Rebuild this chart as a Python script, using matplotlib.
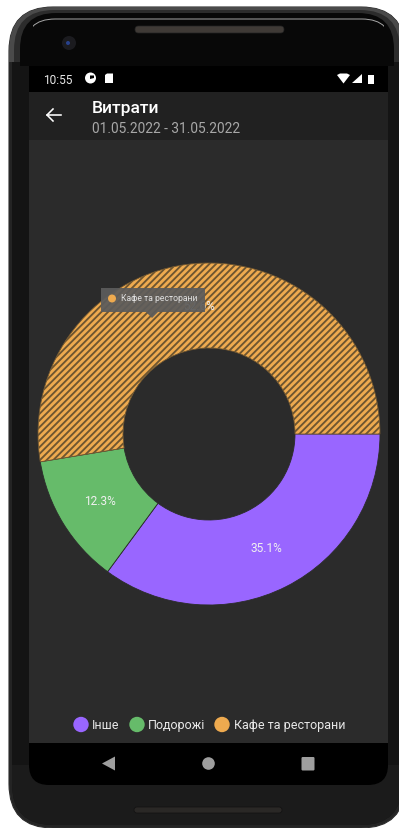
import matplotlib
matplotlib.use("Agg")
import matplotlib.pyplot as plt
from matplotlib.patches import FancyBboxPatch, Rectangle, Circle, Polygon
from matplotlib.lines import Line2D

categories = ["Інше", "Подорожі", "Кафе та ресторани"]
shares = [35.1, 12.3, 52.6]
colors = ["#9966ff", "#66bb6a", "#eeaa4f"]
title = "Витрати"
subtitle = "01.05.2022 - 31.05.2022"
clock = "10:55"

W, H = 399, 829
plt.rcParams["font.family"] = ["Roboto", "DejaVu Sans"]
plt.rcParams["hatch.linewidth"] = 1.35

fig = plt.figure(figsize=(W / 100, H / 100), dpi=100, facecolor="white")
ax = fig.add_axes([0, 0, 1, 1])


def rounded(x0, y0, x1, y1, r, **kw):
    p = FancyBboxPatch((x0 + r, y0 + r), x1 - x0 - 2 * r, y1 - y0 - 2 * r,
                       boxstyle=f"round,pad={r},rounding_size={r}", **kw)
    ax.add_patch(p)
    return p


def keep_between(patch, y0, y1, x0=0, x1=W):
    patch.set_clip_path(Rectangle((x0, y0), x1 - x0, y1 - y0, transform=ax.transData))


ax.set_xlim(0, W)
ax.set_ylim(H - 1, -1)

# phone body: grey rim on top, dark sides and a lighter chin
rounded(9, 7, 405, 828, 44, fc="#242424", ec="#2c2c2c", lw=0.8, zorder=1)
body = rounded(12, 9, 402, 825, 41, fc="#141414", ec="none", zorder=1.1)
chin = Rectangle((0, 765), W, 65, fc="#1b1b1b", ec="none", zorder=1.2)
ax.add_patch(chin)
chin.set_clip_path(body)
rim = rounded(9, 7, 405, 200, 44, fc="#4a4a4a", ec="none", zorder=1.25)
keep_between(rim, 0, 62)
mid_rim = rounded(14, 10, 400, 200, 40, fc="#2c2c2c", ec="none", zorder=1.26)
keep_between(mid_rim, 0, 62)
head = rounded(20, 13, 394, 200, 36, fc="#080808", ec="none", zorder=1.27)
keep_between(head, 0, 66)
glare = rounded(25, 19, 392, 200, 30, fc="#080808", ec="#a8a8a8", lw=0.7, zorder=1.3)
keep_between(glare, 0, 34, 33, 384)

# earpiece, lower speaker and camera
rounded(135, 26, 284, 33, 3.4, fc="#3f3a36", ec="#222222", lw=0.5, zorder=2)
rounded(134, 807, 282, 813, 2.9, fc="#2a2826", ec="#111111", lw=0.5, zorder=2)
ax.add_patch(Circle((69, 43), 7, fc="#1b1b1f", ec="none", zorder=2))
ax.add_patch(Circle((68, 43), 2, fc="#27418c", ec="none", zorder=2.1))

# screen regions
ax.add_patch(Rectangle((29, 66), 359, 26, fc="black", ec="none", zorder=2))
rounded(29, 720, 388, 785, 20, fc="black", ec="none", zorder=2)
ax.add_patch(Rectangle((29, 92), 359, 48, fc="#212121", ec="none", zorder=3))
ax.add_patch(Rectangle((29, 140), 359, 603, fc="#2b2b2b", ec="none", zorder=3))

# status bar
ax.text(43, 79, clock, color="#e8e8e8", fontsize=8.6, va="center", zorder=4)
ax.add_patch(Circle((90.5, 78), 5.5, fc="white", ec="none", zorder=4))
ax.add_patch(Polygon([[90, 75.5], [94, 75.5], [94, 78], [90, 79]], fc="black", ec="none", zorder=4.1))
ax.add_patch(Polygon([[105, 75], [107, 73.5], [113, 73.5], [113, 83], [105, 83]], fc="white", ec="none", zorder=4))
ax.add_patch(Polygon([[337, 75], [340, 73.5], [347, 73.5], [350, 75], [343.5, 83.5]], fc="white", ec="none", zorder=4))
ax.add_patch(Polygon([[352, 83], [362, 83], [362, 73.5]], fc="white", ec="none", zorder=4))
ax.add_patch(Rectangle((368, 74.5), 5.5, 9, fc="white", ec="none", zorder=4))

# app bar
ax.add_line(Line2D([47, 61], [115, 115], color="white", lw=1.15, zorder=4))
ax.add_line(Line2D([53, 47, 53], [109, 115, 121], color="white", lw=1.15, zorder=4))
ax.text(92, 108, title, color="white", fontsize=12.6, fontweight="medium", va="center", zorder=4)
ax.text(92, 128, subtitle, color="#a8a8a8", fontsize=9.9, va="center", zorder=4)

# doughnut, clockwise from three o'clock on the inverted y axis
wedges, _, pct_labels = ax.pie(
    shares, colors=colors, startangle=0, counterclock=True,
    radius=171, center=(209, 434), frame=True,
    wedgeprops=dict(width=85, edgecolor="#2b2b2b", linewidth=0.6, zorder=5),
    autopct="%.1f%%", pctdistance=0.75,
    textprops=dict(color="#f0f0f0", fontsize=8.6),
)
ax.set_xlim(0, W)
ax.set_ylim(H - 1, -1)
ax.set_aspect("auto")
ax.axis("off")
for t in pct_labels:
    t.set_zorder(6)
    t.set_y(t.get_position()[1] - 1)
wedges[2].set_hatch("/////")
wedges[2].set_edgecolor("#6e5530")

# tooltip over the highlighted slice
ax.add_patch(Polygon([[101, 288], [205, 288], [205, 312], [158, 312], [152, 318], [146, 312], [101, 312]],
                     fc="#5c5c5c", ec="none", alpha=0.93, zorder=7))
ax.add_patch(Circle((112, 298.5), 4, fc=colors[2], ec="none", zorder=8))
ax.text(121, 298, categories[2], color="#e0e0e0", fontsize=6.2, va="center", zorder=8)

# legend row
legend_dots = [81, 137, 222]
legend_text = [92, 148, 234]
for dot_x, text_x, name, col in zip(legend_dots, legend_text, categories, colors):
    ax.add_patch(Circle((dot_x, 724.5), 7.7, fc=col, ec="none", zorder=5))
    ax.text(text_x, 724.5, name, color="#e8e8e8", fontsize=9.0, va="center", zorder=5)

# navigation bar
ax.add_patch(Polygon([[102, 763.5], [115, 756.5], [115, 770.5]], fc="#9e9e9e", ec="none", zorder=4))
ax.add_patch(Circle((208.5, 763.5), 6.3, fc="#9e9e9e", ec="none", zorder=4))
rounded(301.5, 757, 314.5, 770.5, 1.2, fc="#9e9e9e", ec="none", zorder=4)

fig.savefig("out.png", dpi=100, facecolor="white")
